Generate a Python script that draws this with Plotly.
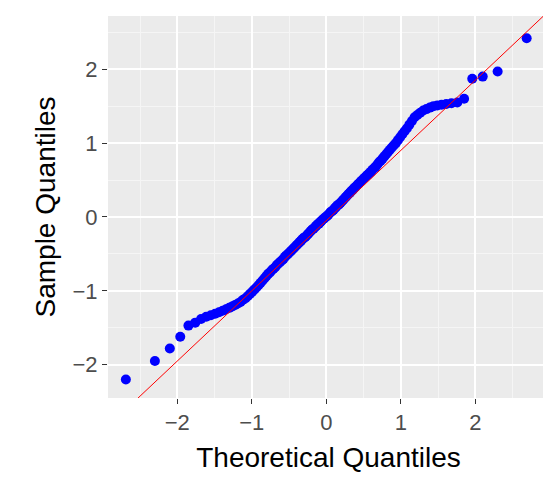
import plotly.graph_objects as go
from statistics import NormalDist

sample = [-2.20,-1.95,-1.78,-1.62,-1.47,-1.43,-1.38,-1.35,-1.33,-1.31,-1.29,-1.27,-1.25,-1.23,-1.21,-1.19,-1.17,-1.15,-1.12,-1.10,
-1.07,-1.04,-1.01,-0.98,-0.95,-0.92,-0.89,-0.86,-0.83,-0.80,
-0.77,-0.75,-0.72,-0.70,-0.68,-0.65,-0.63,-0.61,-0.59,-0.57,
-0.54,-0.52,-0.50,-0.48,-0.46,-0.44,-0.42,-0.40,-0.38,-0.36,
-0.34,-0.32,-0.30,-0.28,-0.27,-0.25,-0.23,-0.21,-0.19,-0.17,
-0.16,-0.14,-0.12,-0.10,-0.09,-0.07,-0.05,-0.03,-0.02,0.00,
0.01,0.03,0.05,0.07,0.08,0.10,0.12,0.14,0.16,0.17,
0.19,0.21,0.23,0.25,0.27,0.29,0.31,0.33,0.35,0.37,
0.39,0.41,0.43,0.45,0.47,0.49,0.51,0.53,0.55,0.57,
0.59,0.61,0.64,0.66,0.68,0.71,0.74,0.76,0.79,0.82,
0.85,0.88,0.91,0.94,0.97,1.00,1.04,1.08,1.12,1.16,
1.20,1.25,1.30,1.35,1.38,1.41,1.44,1.46,1.48,1.50,
1.51,1.52,1.53,1.54,1.55,1.60,1.87,1.90,1.97,2.42]
n = len(sample)
theo = [NormalDist().inv_cdf((i + 0.5) / n) for i in range(n)]
line_x = [-3.2, 3.2]
slope, intercept = 0.95, -0.05
line_y = [intercept + slope * v for v in line_x]

fig = go.Figure()
fig.add_trace(go.Scatter(x=theo, y=sample, mode="markers",
                         marker=dict(color="#0000FF", size=10), showlegend=False))
fig.add_trace(go.Scatter(x=line_x, y=line_y, mode="lines",
                         line=dict(color="#FF0000", width=1), showlegend=False))
ax = dict(showgrid=True, gridcolor="white", gridwidth=1.5, zeroline=False,
          ticks="outside", ticklen=5, tickcolor="#333333", dtick=1, automargin=False,
          tickfont=dict(size=22, color="#4D4D4D"),
          minor=dict(showgrid=True, gridcolor="#F5F5F5", dtick=0.5, gridwidth=0.8))
fig.update_xaxes(**ax, range=[-2.93, 2.99],
                 title=dict(text="Theoretical Quantiles", standoff=12, font=dict(size=28, color="black")))
fig.update_yaxes(**ax, range=[-2.45, 2.72],
                 title=dict(text="Sample Quantiles", standoff=8, font=dict(size=28, color="black")))
fig.update_layout(width=551, height=493, plot_bgcolor="#EBEBEB", paper_bgcolor="white",
                  margin=dict(l=100, r=10, t=8, b=103),
                  font=dict(family="Liberation Sans, Arial"))
fig.write_html("out.html")
